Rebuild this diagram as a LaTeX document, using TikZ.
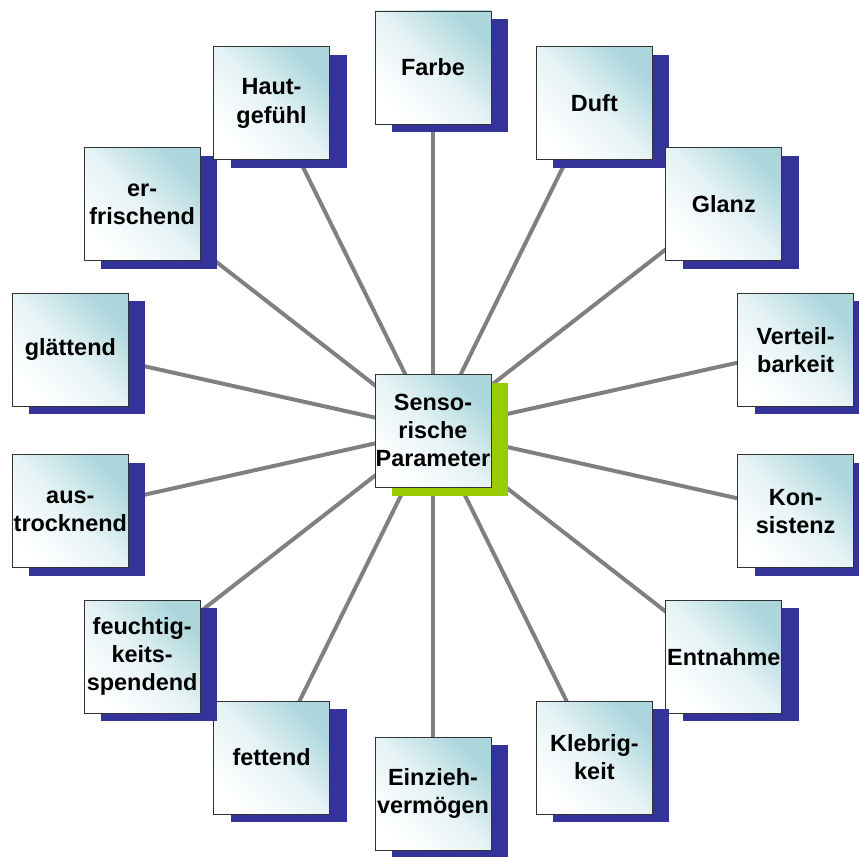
\documentclass[tikz,border=0pt]{standalone}
\usepackage{fontspec}
\setmainfont{Liberation Sans}
\usetikzlibrary{shadows}
\definecolor{shadowblue}{RGB}{51,51,153}
\definecolor{limegreen}{RGB}{153,204,0}
\definecolor{paletea}{RGB}{170,214,220}
\definecolor{linegray}{RGB}{128,128,128}

\pgfdeclarelayer{bg}
\pgfsetlayers{bg,main}

\begin{document}
\begin{tikzpicture}[
    x=0.03cm, y=0.03cm,
    parambox/.style={
        draw=black!80,
        line width=0.8pt,
        minimum width=3.48cm,
        minimum height=3.39cm,
        inner sep=0pt,
        align=center,
        font=\fontsize{20}{24}\selectfont\bfseries,
        top color=paletea,
        bottom color=white,
        middle color=paletea!30,
        shading angle=-45
    },
    blueshadow/.style={
        drop shadow={shadow xshift=0.51cm, shadow yshift=-0.24cm, fill=shadowblue, opacity=1}
    },
    greenshadow/.style={
        drop shadow={shadow xshift=0.51cm, shadow yshift=-0.27cm, fill=limegreen, opacity=1}
    },
    spoke/.style={linegray, line width=3.4pt}
]

    % Frame
    \useasboundingbox (-433,-425.5) rectangle (426,430.5);
    \clip (-433,-425.5) rectangle (426,430.5);

    % Ring of parameters
    \foreach \lbl [count=\i from 0] in {Farbe, Duft, Glanz, {Verteil-\\barkeit}, {Kon-\\sistenz}, Entnahme, {Klebrig-\\keit}, {Einzieh-\\vermögen}, fettend, {feuchtig-\\keits-\\spendend}, {aus-\\trocknend}, glättend, {er-\\frischend}, {Haut-\\gefühl}}
        \node[parambox, blueshadow] (p\i) at ({372*cos(90-\i*360/14)},{363*sin(90-\i*360/14)}) {\lbl};

    % Centre
    \node[parambox, greenshadow] (centre) at (0,0) {Senso-\\rische\\Parameter};

    % Spokes
    \begin{pgfonlayer}{bg}
        \foreach \i in {0,...,13}
            \draw[spoke] (centre.center) -- (p\i.center);
    \end{pgfonlayer}

\end{tikzpicture}
\end{document}
